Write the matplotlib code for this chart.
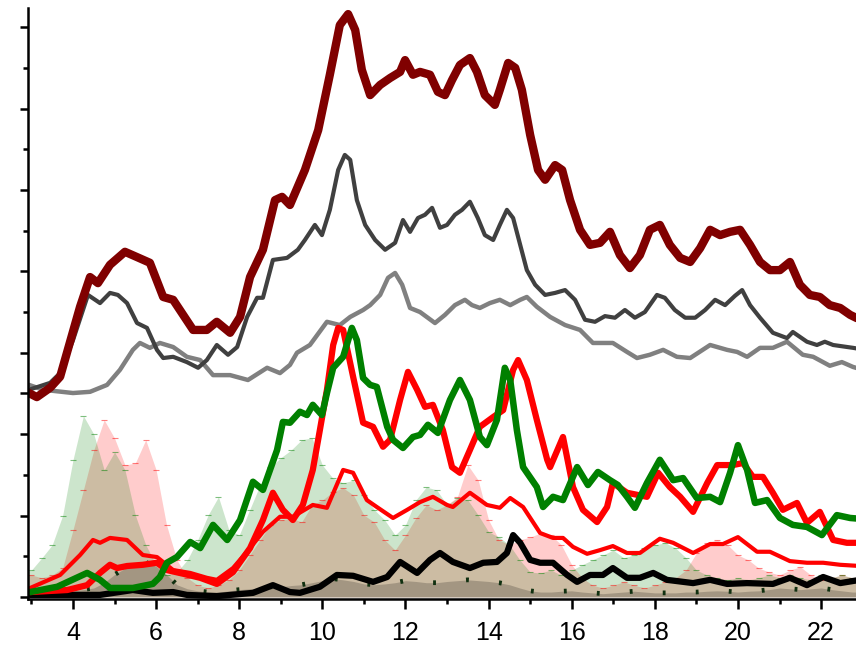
import numpy as np
import matplotlib
matplotlib.use("Agg")
import matplotlib.pyplot as plt

plt.rcParams["font.family"] = ["Liberation Sans", "DejaVu Sans"]
plt.rcParams["lines.solid_joinstyle"] = "round"
plt.rcParams["lines.solid_capstyle"] = "round"

# upper group of curves
maroon_x = [2.94, 3.13, 3.45, 3.69, 4.17, 4.41, 4.6, 4.89, 5.25, 5.54, 5.85, 6.17, 6.41, 6.89, 7.22,
            7.46, 7.78, 8.02, 8.26, 8.57, 8.86, 9.03, 9.22, 9.58, 9.9, 10.18, 10.42, 10.62, 10.79,
            10.95, 11.15, 11.39, 11.63, 11.87, 11.99, 12.18, 12.35, 12.59, 12.78, 12.95, 13.12,
            13.31, 13.55, 13.72, 13.91, 14.15, 14.27, 14.47, 14.64, 14.8, 15.0, 15.19, 15.36, 15.6,
            15.77, 15.96, 16.2, 16.44, 16.68, 16.92, 17.16, 17.4, 17.64, 17.88, 18.12, 18.36, 18.61,
            18.85, 19.09, 19.33, 19.57, 19.81, 20.05, 20.29, 20.53, 20.77, 21.01, 21.25, 21.49,
            21.73, 21.97, 22.21, 22.46, 22.7, 22.94]
maroon_y = [5.01, 4.91, 5.14, 5.41, 7.13, 7.86, 7.71, 8.16, 8.48, 8.35, 8.21, 7.37, 7.3, 6.56, 6.56,
            6.76, 6.49, 6.88, 7.86, 8.53, 9.75, 9.83, 9.63, 10.49, 11.47, 12.83, 14.05, 14.32, 13.93,
            12.95, 12.33, 12.58, 12.75, 12.9, 13.19, 12.83, 12.9, 12.83, 12.41, 12.33, 12.7,
            13.07, 13.24, 12.9, 12.33, 12.09, 12.46, 13.12, 13.0, 12.46, 11.35, 10.49, 10.25, 10.61,
            10.49, 9.75, 9.02, 8.65, 8.7, 8.97, 8.4, 8.08, 8.4, 9.02, 9.14, 8.65, 8.33,
            8.23, 8.57, 9.02, 8.89, 8.97, 9.02, 8.65, 8.23, 8.03, 8.03, 8.23, 7.67,
            7.42, 7.37, 7.17, 7.1, 6.93, 6.81]

dgray_x = [2.94, 3.45, 3.69, 4.0, 4.36, 4.65, 4.89, 5.08, 5.3, 5.54, 5.78, 6.02, 6.17, 6.41, 6.74,
           7.01, 7.22, 7.46, 7.73, 7.95, 8.19, 8.43, 8.57, 8.81, 9.15, 9.41, 9.58, 9.82, 9.99,
           10.18, 10.38, 10.54, 10.67, 10.83, 11.03, 11.27, 11.51, 11.75, 11.94, 12.11, 12.3,
           12.47, 12.64, 12.83, 13.0, 13.19, 13.36, 13.55, 13.74, 13.91, 14.11, 14.27, 14.44,
           14.59, 14.76, 14.92, 15.12, 15.36, 15.6, 15.84, 16.08, 16.32, 16.56, 16.8, 17.04,
           17.28, 17.52, 17.76, 18.05, 18.24, 18.48, 18.73, 18.97, 19.21, 19.45, 19.69, 19.93,
           20.1, 20.29, 20.53, 20.84, 21.18, 21.32, 21.66, 21.9, 22.09, 22.29, 22.77, 22.94]
dgray_y = [5.09, 5.26, 5.5, 6.31, 7.42, 7.22, 7.47, 7.42, 7.22, 6.73, 6.61, 6.07, 5.87, 5.9, 5.77,
           5.63, 5.82, 6.19, 5.95, 6.14, 6.88, 7.35, 7.35, 8.28, 8.33, 8.53, 8.77, 9.14, 8.89,
           9.51, 10.49, 10.86, 10.74, 9.75, 9.14, 8.77, 8.53, 8.7, 9.26, 8.97, 9.31,
           9.39, 9.56, 9.07, 9.14, 9.39, 9.51, 9.71, 9.31, 8.89, 8.77, 9.14, 9.51,
           9.31, 8.65, 8.03, 7.67, 7.42, 7.47, 7.54, 7.3, 6.81, 6.76, 6.9, 6.86,
           7.05, 6.86, 7.0, 7.42, 7.35, 7.05, 6.86, 6.86, 7.05, 7.3, 7.17, 7.4,
           7.54, 7.17, 6.86, 6.49, 6.36, 6.51, 6.27, 6.19, 6.27, 6.19, 6.12, 6.09]

gray_x = [2.94, 3.28, 4.0, 4.41, 4.82, 5.13, 5.44, 5.61, 5.85, 6.09, 6.41, 6.74, 7.06, 7.37, 7.78,
          8.21, 8.67, 8.98, 9.22, 9.39, 9.7, 10.11, 10.42, 10.67, 10.98, 11.15, 11.39, 11.58,
          11.75, 11.92, 12.11, 12.35, 12.71, 12.95, 13.19, 13.43, 13.6, 13.79, 14.03, 14.27,
          14.52, 14.76, 14.92, 15.16, 15.48, 15.84, 16.2, 16.51, 16.99, 17.33, 17.57, 17.88,
          18.2, 18.53, 18.85, 19.33, 19.74, 19.98, 20.22, 20.53, 20.84, 21.18, 21.56, 21.81,
          22.21, 22.5, 22.77, 22.94]
gray_y = [5.21, 5.09, 5.01, 5.04, 5.21, 5.58, 6.07, 6.24, 6.12, 6.24, 6.14, 5.9, 5.82, 5.45, 5.45,
          5.33, 5.63, 5.5, 5.7, 6.0, 6.19, 6.76, 6.68, 6.88, 7.05, 7.17, 7.42, 7.84,
          7.96, 7.67, 7.1, 7.0, 6.73, 6.93, 7.17, 7.3, 7.17, 7.1, 7.22, 7.3,
          7.17, 7.3, 7.37, 7.13, 6.88, 6.68, 6.56, 6.24, 6.24, 6.02, 5.87, 5.95,
          6.07, 5.9, 5.87, 6.19, 6.07, 6.02, 5.9, 6.12, 6.12, 6.27, 5.95, 5.9,
          5.68, 5.77, 5.65, 5.6]

# lower group of curves
red_x = [2.97, 3.86, 4.34, 4.65, 4.89, 5.06, 5.3, 5.68, 6.02, 6.26, 6.65, 7.06, 7.46, 7.85, 8.26,
         8.57, 8.81, 9.05, 9.29, 9.53, 9.77, 9.94, 10.11, 10.26, 10.38, 10.5, 10.74, 10.98, 11.22,
         11.46, 11.63, 11.87, 12.06, 12.28, 12.47, 12.66, 12.9, 13.12, 13.31, 13.55, 13.79, 14.11,
         14.35, 14.59, 14.71, 14.92, 15.16, 15.41, 15.48, 15.79, 16.03, 16.27, 16.61, 16.85,
         16.99, 17.33, 17.81, 18.08, 18.36, 18.61, 18.92, 19.26, 19.5, 19.88, 20.12, 20.36,
         20.6, 20.84, 21.08, 21.42, 21.66, 21.97, 22.29, 22.62, 22.94]
red_y = [0.12, 0.17, 0.29, 0.59, 0.79, 0.71, 0.76, 0.79, 0.84, 0.66, 0.57, 0.47, 0.32, 0.61, 1.2,
         1.89, 2.56, 2.14, 1.89, 2.26, 3.12, 4.1, 5.09, 6.19, 6.61, 6.56, 5.41, 4.28, 4.18,
         3.69, 3.86, 4.84, 5.53, 5.09, 4.67, 4.72, 4.1, 3.19, 3.05, 3.61, 4.18, 4.42,
         4.59, 5.58, 5.82, 5.33, 4.35, 3.37, 3.19, 3.93, 2.7, 2.14, 1.84, 2.21,
         2.8, 2.56, 2.46, 3.05, 2.7, 2.46, 2.09, 2.8, 3.24, 3.24, 3.29, 2.95,
         2.95, 2.56, 2.14, 2.31, 1.82, 2.09, 1.4, 1.33, 1.33]

red2_x = [2.97, 3.69, 4.17, 4.48, 4.65, 4.89, 5.3, 5.68, 6.02, 6.41, 6.82, 7.22, 7.46, 7.85, 8.26,
          8.57, 8.98, 9.29, 9.77, 10.11, 10.5, 10.74, 11.07, 11.31, 11.7, 12.04, 12.35, 12.66,
          13.0, 13.14, 13.55, 13.96, 14.27, 14.52, 14.83, 15.24, 15.55, 15.79, 16.03, 16.37,
          16.68, 16.99, 17.33, 17.64, 18.12, 18.44, 18.92, 19.33, 19.64, 20.0, 20.46, 20.77,
          21.25, 21.66, 22.05, 22.46, 22.94]
red2_y = [0.22, 0.54, 1.03, 1.4, 1.33, 1.45, 1.4, 1.03, 0.98, 0.66, 0.59, 0.47, 0.42, 0.71, 1.2,
          1.6, 1.97, 1.97, 2.26, 2.19, 3.12, 3.05, 2.38, 2.21, 1.94, 2.14, 2.33, 2.46,
          2.26, 2.21, 2.56, 2.26, 2.19, 2.43, 2.21, 1.57, 1.45, 1.45, 1.23, 1.06,
          1.15, 1.25, 1.08, 1.08, 1.43, 1.33, 1.08, 1.3, 1.3, 1.47, 1.11, 1.11,
          0.88, 0.84, 0.84, 0.79, 0.76]

green_x = [2.97, 3.62, 4.34, 4.65, 4.89, 5.44, 5.92, 6.09, 6.26, 6.5, 6.82, 7.06, 7.37, 7.71, 8.02,
           8.33, 8.57, 8.91, 9.05, 9.22, 9.46, 9.63, 9.77, 9.99, 10.11, 10.26, 10.5, 10.71, 10.83,
           10.98, 11.15, 11.31, 11.56, 11.7, 11.94, 12.18, 12.35, 12.54, 12.78, 13.07, 13.31,
           13.55, 13.79, 13.96, 14.2, 14.39, 14.52, 14.68, 14.83, 15.16, 15.31, 15.55, 15.79,
           16.13, 16.39, 16.63, 16.92, 17.11, 17.33, 17.52, 17.81, 18.12, 18.44, 18.68, 19.01,
           19.33, 19.57, 19.81, 20.0, 20.22, 20.41, 20.7, 21.01, 21.32, 21.66, 22.02, 22.38,
           22.7, 22.94]
green_y = [0.12, 0.25, 0.59, 0.42, 0.22, 0.22, 0.32, 0.49, 0.84, 0.98, 1.35, 1.2, 1.77, 1.4, 1.89,
           2.83, 2.63, 3.61, 4.3, 4.28, 4.55, 4.47, 4.72, 4.47, 5.01, 5.63, 5.9, 6.61, 6.31,
           5.38, 5.21, 5.16, 4.18, 3.86, 3.66, 3.93, 3.98, 4.23, 4.03, 4.84, 5.33,
           4.84, 3.93, 3.73, 4.35, 5.63, 5.33, 4.1, 3.19, 2.7, 2.21, 2.46, 2.38,
           3.19, 2.75, 3.07, 2.87, 2.75, 2.46, 2.19, 2.8, 3.37, 2.87, 2.92, 2.43,
           2.46, 2.33, 3.05, 3.73, 3.12, 2.31, 2.38, 1.94, 1.77, 1.72, 1.52, 2.01,
           1.94, 1.92]

black_x = [2.97, 4.65, 5.44, 5.92, 6.41, 6.74, 7.46, 8.33, 8.81, 9.22, 9.46, 9.94, 10.35, 10.74,
           11.22, 11.56, 11.87, 12.28, 12.59, 12.83, 13.14, 13.55, 13.87, 14.2, 14.44, 14.59,
           14.76, 15.0, 15.24, 15.55, 15.89, 16.13, 16.44, 16.75, 16.99, 17.33, 17.64, 17.96,
           18.29, 18.92, 19.33, 19.74, 20.22, 20.84, 21.25, 21.66, 22.05, 22.46, 22.94]
black_y = [0.05, 0.05, 0.17, 0.1, 0.12, 0.05, 0.02, 0.1, 0.29, 0.12, 0.1, 0.25, 0.54, 0.52,
           0.37, 0.49, 0.86, 0.59, 0.91, 1.08, 0.86, 0.71, 0.84, 0.86, 1.08, 1.52,
           1.33, 0.91, 0.84, 0.84, 0.54, 0.37, 0.54, 0.54, 0.71, 0.47, 0.47, 0.59,
           0.42, 0.34, 0.42, 0.32, 0.34, 0.32, 0.47, 0.29, 0.49, 0.34, 0.42]

# shaded bands, sampled every 0.25 from 2.75 to 23.0
fill_x = np.arange(2.75, 23.01, 0.25)
green_fill = [0.6, 0.66, 0.96, 1.28, 2.0, 3.37, 4.45, 4.0, 3.12, 3.56, 3.12, 2.01, 1.28, 0.79,
              0.54, 0.61, 0.91, 1.4, 2.01, 2.46, 1.65, 1.52, 2.14, 2.75, 3.19, 3.42, 3.61, 3.86,
              3.91, 3.24, 2.92, 2.8, 2.87, 2.5, 2.14, 1.89, 1.52, 1.77, 2.38, 2.7, 2.63, 2.26,
              2.43, 2.38, 2.01, 1.6, 1.47, 1.28, 0.91, 0.61, 0.59, 0.66, 0.54, 0.66, 0.79, 0.91,
              1.03, 1.15, 0.96, 1.03, 1.2, 1.28, 1.33, 1.2, 0.96, 0.66, 0.54, 0.47, 0.42, 0.47,
              0.42, 0.47, 0.54, 0.47, 0.54, 0.47, 0.42, 0.54, 0.47, 0.54, 0.47, 0.5]
red_fill = [0.55, 0.54, 0.47, 0.54, 0.71, 1.65, 2.63, 3.61, 4.35, 3.9, 3.24, 3.29, 3.86, 3.12,
            1.77, 0.91, 0.47, 0.29, 0.22, 0.29, 0.42, 0.66, 1.03, 1.4, 1.77, 1.89, 1.94, 1.84,
            2.26, 2.38, 2.58, 2.68, 2.5, 2.01, 1.84, 1.4, 1.15, 1.52, 1.94, 2.26, 2.14, 2.26,
            2.46, 3.24, 2.87, 1.89, 1.4, 1.28, 1.4, 1.47, 1.57, 1.52, 1.28, 0.79, 0.47, 0.29,
            0.22, 0.29, 0.37, 0.29, 0.22, 0.29, 0.37, 0.47, 0.66, 1.08, 1.33, 1.4, 1.28, 1.03,
            0.91, 0.71, 0.61, 0.54, 0.66, 0.74, 0.54, 0.42, 0.47, 0.54, 0.47, 0.45]
dark_fill = [0.1, 0.1, 0.1, 0.1, 0.12, 0.15, 0.18, 0.22, 0.35, 0.55, 0.7, 0.8, 0.85, 0.75,
             0.55, 0.3, 0.2, 0.15, 0.12, 0.12, 0.15, 0.18, 0.2, 0.22, 0.25, 0.25, 0.28, 0.3,
             0.35, 0.4, 0.45, 0.42, 0.38, 0.32, 0.3, 0.32, 0.35, 0.4, 0.38, 0.35, 0.35, 0.38,
             0.4, 0.42, 0.4, 0.38, 0.35, 0.3, 0.22, 0.15, 0.12, 0.12, 0.14, 0.15, 0.12, 0.1,
             0.08, 0.1, 0.12, 0.14, 0.12, 0.1, 0.1, 0.1, 0.12, 0.12, 0.14, 0.15, 0.14, 0.12,
             0.14, 0.15, 0.18, 0.22, 0.2, 0.18, 0.2, 0.22, 0.18, 0.15, 0.12, 0.12]

fig = plt.figure(figsize=(8.56, 6.5), dpi=100)
ax = fig.add_axes([0.0327, 0.0785, 0.9673, 0.9092])

ax.fill_between(fill_x, 0, red_fill, color="red", alpha=0.2, lw=0)
ax.fill_between(fill_x, 0, green_fill, color="green", alpha=0.2, lw=0)
ax.fill_between(fill_x, 0, dark_fill, color="black", alpha=0.2, lw=0)
ax.plot(fill_x, red_fill, ls="none", marker="_", ms=5, mew=0.8, color="red", alpha=0.5)
ax.plot(fill_x, green_fill, ls="none", marker="_", ms=5, mew=0.8, color="green", alpha=0.5)
ax.plot(fill_x, dark_fill, color="#103010", lw=3.4, ls=(0, (0.6, 6.4)),
        dash_capstyle="butt")

ax.plot(gray_x, gray_y, color="#808080", lw=3.2)
ax.plot(dgray_x, dgray_y, color="#404040", lw=3.0)
ax.plot(maroon_x, maroon_y, color="#800000", lw=6.0)
ax.plot(black_x, black_y, color="black", lw=4.5)
ax.plot(red2_x, red2_y, color="red", lw=3.0)
ax.plot(red_x, red_y, color="red", lw=4.5)
ax.plot(green_x, green_y, color="green", lw=4.7)

ax.set_xlim(2.917, 22.84)
ax.set_ylim(-0.05, 14.47)

ax.set_xticks(np.arange(4, 23, 2))
ax.set_xticks(np.arange(3, 23, 2), minor=True)
ax.set_yticks([0, 2, 4, 5, 6, 8, 10, 12, 14])
ax.set_yticks([1, 3, 7, 9, 11, 13], minor=True)
ax.set_yticklabels([])
ax.tick_params(axis="x", which="major", length=7, width=1.8, labelsize=18, pad=9)
ax.tick_params(axis="x", which="minor", length=3.6, width=1.8)
ax.tick_params(axis="y", which="major", length=5.8, width=1.8)
ax.tick_params(axis="y", which="minor", length=3.6, width=1.8)

for side in ["top", "right"]:
    ax.spines[side].set_visible(False)
for side in ["left", "bottom"]:
    ax.spines[side].set_linewidth(1.8)

fig.savefig("out.png", dpi=100)
